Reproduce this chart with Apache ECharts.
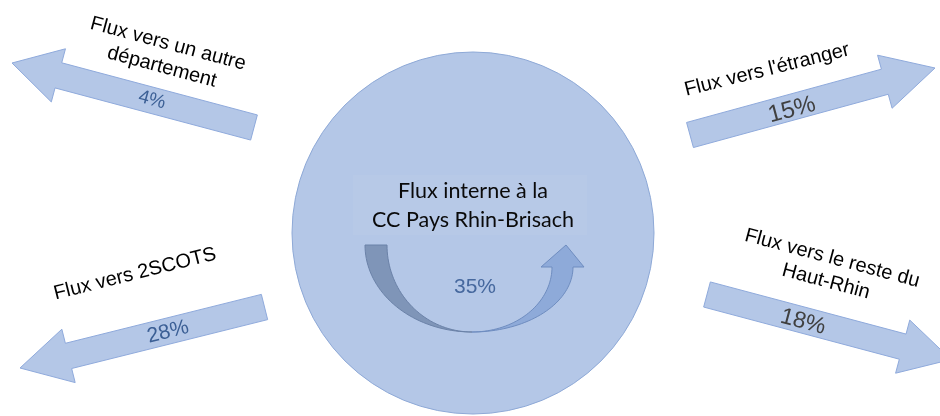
<!DOCTYPE html>
<html>
<head>
<meta charset="utf-8">
<script src="https://cdn.jsdelivr.net/npm/echarts@6/dist/echarts.min.js"></script>
<style>
html,body{margin:0;padding:0;background:#ffffff;}
#chart{width:940px;height:416px;}
</style>
</head>
<body>
<div id="chart"></div>
<script>
// ---- Data ----
const categories = [
  'Flux vers un autre\ndépartement',
  "Flux vers l'étranger",
  'Flux vers 2SCOTS',
  'Flux vers le reste du\nHaut-Rhin',
  'Flux interne à la\nCC Pays Rhin-Brisach'
];
const values = [4, 15, 28, 18, 35];
const valueLabels = values.map(v => v + '%');

// ---- Layout (diagram geometry, in chart units) ----
const arrowLayout = [
  {tail:[254,127.5], tip:[12,63],  w:26, hw:55, hl:48,
   label:[165,55.5], labelRot:-15, pct:[152,100], pctRot:-15, pctSize:19, pctColor:'#3b5f95'},
  {tail:[690,135],   tip:[935,68], w:26, hw:55, hl:52,
   label:[767,70],   labelRot:14,  pct:[792,110], pctRot:15,  pctSize:24, pctColor:'#404040'},
  {tail:[264.5,307], tip:[20,368], w:26, hw:55, hl:50,
   label:[135,274],  labelRot:14,  pct:[168,332], pctRot:14,  pctSize:21, pctColor:'#3b5f95'},
  {tail:[707,294.5], tip:[951,359.5], w:26, hw:55, hl:50,
   label:[829,270],  labelRot:-15, pct:[803,322], pctRot:-15, pctSize:23, pctColor:'#404040'}
];
const innerLayout = {
  center:[473,233], r:181,
  box:[353,175,234,60],
  label:[473,206], pct:[475,287]
};

const deg = Math.PI/180;

function arrowPoints(L){
  const dx = L.tip[0]-L.tail[0], dy = L.tip[1]-L.tail[1];
  const len = Math.hypot(dx,dy);
  const d = [dx/len, dy/len];
  const n = [-d[1], d[0]];
  const B = [L.tip[0]-d[0]*L.hl, L.tip[1]-d[1]*L.hl];
  const p = (P, k) => [P[0]+n[0]*k, P[1]+n[1]*k];
  return [p(L.tail, L.w/2), p(B, L.w/2), p(B, L.hw/2), L.tip, p(B,-L.hw/2), p(B,-L.w/2), p(L.tail,-L.w/2)];
}

function ellipsePts(cx, cy, rx, ry, a0, a1, n){
  const pts = [];
  for(let k=0;k<=n;k++){
    const a = (a0 + (a1-a0)*k/n)*deg;
    pts.push([cx + rx*Math.cos(a), cy + ry*Math.sin(a)]);
  }
  return pts;
}

function renderItem(params, api){
  const i = api.value(0);
  const C = p => api.coord(p);
  if(i < arrowLayout.length){
    const L = arrowLayout[i];
    return {
      type:'group',
      children:[
        {type:'polygon', shape:{points: arrowPoints(L).map(C)},
         style:{fill:'#b4c7e7', stroke:'#8faadc', lineWidth:1}},
        {type:'text', x:C(L.label)[0], y:C(L.label)[1], rotation:L.labelRot*deg,
         style:{text:categories[i], fill:'#000000', fontFamily:'Liberation Sans, Arial, sans-serif',
                fontSize:20, align:'center', verticalAlign:'middle', lineHeight:24}},
        {type:'text', x:C(L.pct)[0], y:C(L.pct)[1], rotation:L.pctRot*deg,
         style:{text:valueLabels[i], fill:L.pctColor, fontFamily:'Liberation Sans, Arial, sans-serif',
                fontSize:L.pctSize, align:'center', verticalAlign:'middle'}}
      ]
    };
  }
  const I = innerLayout;
  const c = C(I.center);
  const r = api.size([I.r, 0])[0];
  // left (dark) part of curved arrow
  const outerL = ellipsePts(472,245,107,87,180,90,40);
  const innerL = ellipsePts(472,245,85,87,90,180,40);
  // right (light) part of curved arrow
  const outerR = ellipsePts(472,267,101,65,90,0,40);
  const innerR = ellipsePts(472,267,80,65,0,90,40);
  const rightPoly = outerR.concat([[584,267],[566,245],[541,267]]).concat(innerR);
  const box = I.box;
  const b0 = C([box[0],box[1]]), b1 = C([box[0]+box[2], box[1]+box[3]]);
  return {
    type:'group',
    children:[
      {type:'circle', shape:{cx:c[0], cy:c[1], r:r},
       style:{fill:'#b4c7e7', stroke:'#8ea9d7', lineWidth:1}},
      {type:'rect', shape:{x:b0[0], y:b0[1], width:b1[0]-b0[0], height:b1[1]-b0[1]},
       style:{fill:'#b7c9e7'}},
      {type:'polygon', shape:{points: outerL.concat(innerL).map(C)},
       style:{fill:'#7f95b8', stroke:'#6b82a8', lineWidth:1}},
      {type:'polygon', shape:{points: rightPoly.map(C)},
       style:{fill:'#8eaad9', stroke:'#6f8dc0', lineWidth:1}},
      {type:'text', x:C(I.label)[0], y:C(I.label)[1],
       style:{text:categories[i], fill:'#0a0a0a', fontFamily:'Lato, "Open Sans", sans-serif',
              fontSize:21.5, align:'center', verticalAlign:'middle', lineHeight:29}},
      {type:'text', x:C(I.pct)[0], y:C(I.pct)[1],
       style:{text:valueLabels[i], fill:'#46689e', fontFamily:'Liberation Sans, Arial, sans-serif',
              fontSize:21, align:'center', verticalAlign:'middle'}}
    ]
  };
}

const chart = echarts.init(document.getElementById('chart'), null, {renderer:'canvas'});
chart.setOption({
  animation:false,
  backgroundColor:'#ffffff',
  grid:{left:0, right:0, top:0, bottom:0},
  xAxis:{type:'value', min:0, max:940, show:false},
  yAxis:{type:'value', min:0, max:416, inverse:true, show:false},
  series:[{
    type:'custom',
    coordinateSystem:'cartesian2d',
    clip:false,
    renderItem: renderItem,
    encode:{x:0, y:1},
    data: categories.map((c, i) => [i, values[i]])
  }]
});
</script>
</body>
</html>
